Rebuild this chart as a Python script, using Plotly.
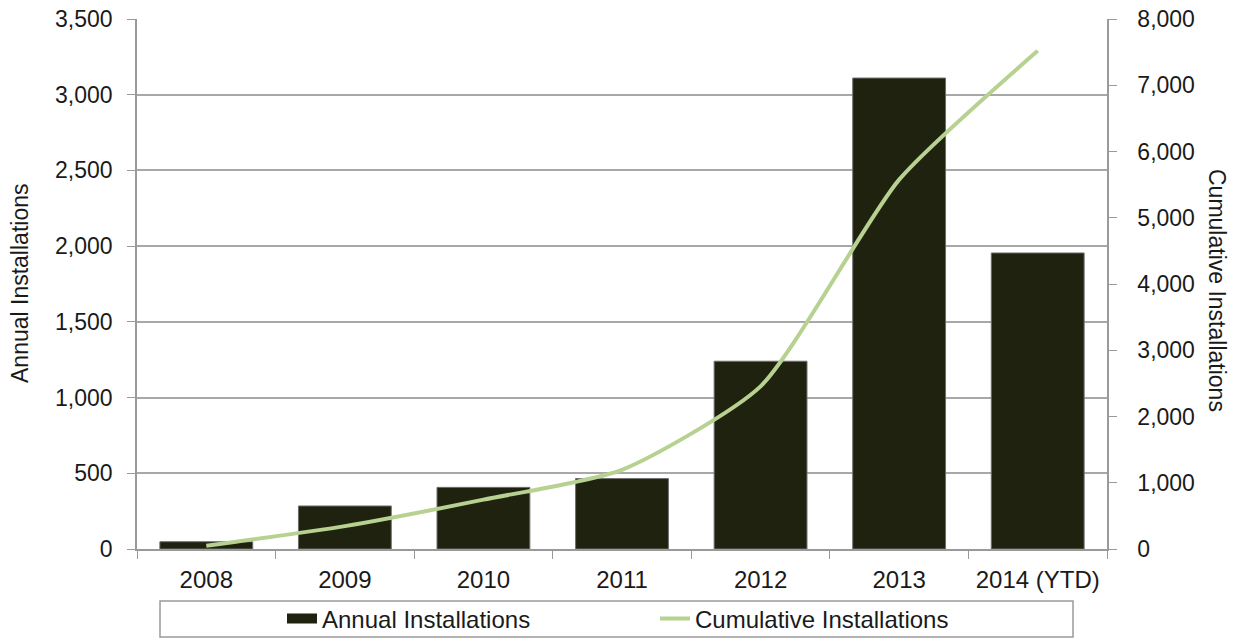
import plotly.graph_objects as go

# Installations by year
years = ["2008", "2009", "2010", "2011", "2012", "2013", "2014 (YTD)"]
annual_installations = [48, 284, 407, 465, 1240, 3110, 1955]
cumulative_installations = [48, 345, 745, 1195, 2455, 5575, 7520]

# Left axis ticks (annual) and right axis ticks (cumulative)
annual_ticks = [0, 500, 1000, 1500, 2000, 2500, 3000, 3500]
cumulative_ticks = [0, 1000, 2000, 3000, 4000, 5000, 6000, 7000, 8000]

BAR_COLOR = "#1e220e"
LINE_COLOR = "#b6d190"
GRID = "#a8a8a8"
AXIS = "#9a9a9a"
TEXT = "#1a1a1a"
FONT = "Liberation Sans, Arial, sans-serif"

W, H = 1241, 638
L, R, T, B = 137, 134, 19, 89
PW, PH = W - L - R, H - T - B


def px_x(x):
    return (x - L) / PW


def px_y(y):
    return (H - B - y) / PH


fig = go.Figure()

fig.add_trace(go.Bar(
    x=years, y=annual_installations, name="Annual Installations",
    marker=dict(color=BAR_COLOR, line=dict(color="#6e6e6e", width=1)),
    showlegend=False, yaxis="y",
))

# wide swatch for the bar series in the legend
fig.add_trace(go.Scatter(
    x=[None], y=[None], mode="lines", name="Annual Installations",
    line=dict(color=BAR_COLOR, width=13), legendrank=1, yaxis="y",
))

fig.add_trace(go.Scatter(
    x=years, y=cumulative_installations, name="Cumulative Installations",
    mode="lines", line=dict(color=LINE_COLOR, width=4, shape="spline", smoothing=0.6),
    yaxis="y2", legendrank=2,
))

fig.update_layout(
    width=W, height=H,
    margin=dict(l=L, r=R, t=T, b=B, autoexpand=False),
    paper_bgcolor="white", plot_bgcolor="white",
    font=dict(family=FONT, size=23, color=TEXT),
    bargap=0.33,
    xaxis=dict(
        type="category", tickson="boundaries", ticks="outside", ticklen=8,
        tickcolor=AXIS, showline=True, linecolor=AXIS, linewidth=1.5,
        showgrid=False, tickfont=dict(size=24), ticklabelstandoff=8,
    ),
    yaxis=dict(
        range=[0, 3500], tickvals=annual_ticks, tickformat=",",
        ticks="outside", ticklen=8, tickcolor=AXIS,
        showline=True, linecolor=AXIS, linewidth=1.5,
        showgrid=True, gridcolor=GRID, gridwidth=1.5, zeroline=False,
        ticklabelstandoff=10,
    ),
    yaxis2=dict(
        range=[0, 8000], tickvals=cumulative_ticks, tickformat=",",
        overlaying="y", side="right",
        ticks="outside", ticklen=8, tickcolor=AXIS,
        showline=True, linecolor=AXIS, linewidth=1.5,
        showgrid=False, zeroline=False, ticklabelstandoff=16,
    ),
    legend=dict(
        orientation="h", x=px_x(282), xanchor="left",
        y=px_y(619), yanchor="middle",
        entrywidth=328, entrywidthmode="pixels",
        bgcolor="rgba(0,0,0,0)", borderwidth=0,
        font=dict(size=24, color=TEXT),
    ),
    shapes=[dict(
        type="rect", xref="paper", yref="paper",
        x0=px_x(160), x1=px_x(1073), y0=px_y(637), y1=px_y(601),
        line=dict(color=AXIS, width=1.5), fillcolor="rgba(0,0,0,0)",
    )],
    annotations=[
        dict(text="Annual Installations", xref="paper", yref="paper",
             x=px_x(20), y=px_y(284), textangle=-90, showarrow=False,
             font=dict(size=23, color=TEXT), xanchor="center", yanchor="middle"),
        dict(text="Cumulative Installations", xref="paper", yref="paper",
             x=px_x(1217), y=px_y(290), textangle=90, showarrow=False,
             font=dict(size=23, color=TEXT), xanchor="center", yanchor="middle"),
    ],
)

fig.write_html("out.html")
